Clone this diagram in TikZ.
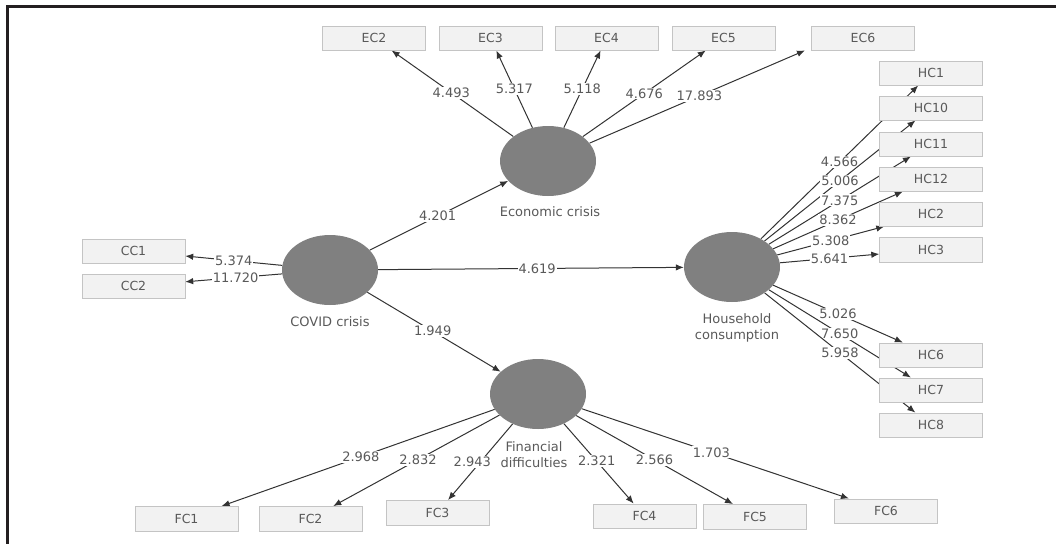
\documentclass[tikz,border=0pt]{standalone}
\usepackage{fontspec}
\setmainfont{DejaVu Sans}
\usetikzlibrary{shapes.geometric,arrows.meta,backgrounds}
\definecolor{latentgray}{HTML}{808080}
\definecolor{boxfill}{HTML}{F2F2F2}
\definecolor{boxline}{HTML}{C4C4C4}
\definecolor{textgray}{HTML}{595959}
\definecolor{framecol}{HTML}{231F20}
\begin{document}
\begin{tikzpicture}[x=1pt,y=-1pt,
latentnode/.style={ellipse, fill=latentgray, minimum width=96pt, minimum height=70pt, inner sep=0pt},
itemnode/.style={rectangle, draw=boxline, fill=boxfill, minimum width=103pt, minimum height=24.5pt, inner sep=0pt, font=\fontsize{12.5}{14}\selectfont, text=textgray},
namenode/.style={font=\fontsize{13}{16}\selectfont, text=textgray, align=center},
link/.style={draw=black!80, line width=1pt, -{Latex[length=8pt,width=6.5pt]}},
coef/.style={fill=white, inner sep=1pt, font=\fontsize{13}{15}\selectfont, text=textgray},
]
\useasboundingbox (0,0) rectangle (1056,544);
%Frame
\draw[framecol, line width=3pt] (1056,6) -- (7,6) -- (7,544);

%Latent variables
\node[latentnode] (eco)   at (548,161) {};
\node[latentnode] (covid) at (330,270) {};
\node[latentnode] (house) at (732,267) {};
\node[latentnode] (fin)   at (538,394) {};
\node[namenode] (econame)   at (550,212) {Economic crisis};
\node[namenode] (covidname) at (330,322) {COVID crisis};
\node[namenode] (housename) at (737,328) {Household\\consumption};
\node[namenode] (finname)   at (534,455) {Financial\\difficulties};

%Indicators
\node[itemnode] (ec2) at (374,38)   {EC2};
\node[itemnode] (ec3) at (490.5,38) {EC3};
\node[itemnode] (ec4) at (606.5,38) {EC4};
\node[itemnode] (ec5) at (723.5,38) {EC5};
\node[itemnode] (ec6) at (863,38)   {EC6};
\node[itemnode] (cc1) at (133.5,251) {CC1};
\node[itemnode] (cc2) at (133.5,286) {CC2};
\node[itemnode] (hc1)  at (931,73)    {HC1};
\node[itemnode] (hc10) at (931,108)   {HC10};
\node[itemnode] (hc11) at (931,144)   {HC11};
\node[itemnode] (hc12) at (931,179)   {HC12};
\node[itemnode] (hc2)  at (931,214)   {HC2};
\node[itemnode] (hc3)  at (931,249.5) {HC3};
\node[itemnode] (hc6)  at (931,355)   {HC6};
\node[itemnode] (hc7)  at (931,390)   {HC7};
\node[itemnode] (hc8)  at (931,425)   {HC8};
\node[itemnode] (fc1) at (186.5,518.5) {FC1};
\node[itemnode] (fc2) at (310.5,518.5) {FC2};
\node[itemnode] (fc3) at (437.5,512.5) {FC3};
\node[itemnode] (fc4) at (644.5,516)   {FC4};
\node[itemnode] (fc5) at (755,516.5)   {FC5};
\node[itemnode] (fc6) at (886,511)     {FC6};

%Lines
\begin{scope}[on background layer]
\draw[link] (covid) -- node[coef, pos=.49] {4.201} (eco);
\draw[link] (covid) -- node[coef, pos=.52] {4.619} (house);
\draw[link] (covid) -- node[coef, pos=.49] {1.949} (fin);
\draw[link] (covid) -- node[coef, pos=.5] {5.374} (cc1);
\draw[link] (covid) -- node[coef, pos=.48] {11.720} (cc2);

\draw[link] (eco) -- node[coef, pos=.51] {4.493} (ec2);
\draw[link] (eco) -- node[coef, pos=.5] {5.317} (ec3);
\draw[link] (eco) -- node[coef, pos=.5] {5.118} (ec4);
\draw[link] (eco) -- node[coef, pos=.5] {4.676} (ec5);
\draw[link] (eco) -- node[coef, pos=.51] {17.893} ([xshift=-58pt]ec6.south);

\draw[link] (house) -- node[coef, pos=.5] {4.566} (hc1);
\draw[link] (house) -- node[coef, pos=.5] {5.006} (hc10);
\draw[link] (house) -- node[coef, pos=.5] {7.375} (hc11);
\draw[link] (house) -- node[coef, pos=.5] {8.362} (hc12);
\draw[link] (house) -- node[coef, pos=.5] {5.308} (hc2);
\draw[link] (house) -- node[coef, pos=.5] {5.641} (hc3);
\draw[link] (house) -- node[coef, pos=.5] {5.026} (hc6);
\draw[link] (house) -- node[coef, pos=.5] {7.650} (hc7);
\draw[link] (house) -- node[coef, pos=.5] {5.958} (hc8);

\draw[link] (fin) -- node[coef, pos=.49] {2.968} (fc1);
\draw[link] (fin) -- node[coef, pos=.49] {2.832} (fc2);
\draw[link] (fin) -- node[coef, pos=.5, xshift=-8pt] {2.943} (fc3);
\draw[link] (fin) -- node[coef, pos=.47] {2.321} (fc4);
\draw[link] (fin) -- node[coef, pos=.5] {2.566} (fc5);
\draw[link] (fin) -- node[coef, pos=.485] {1.703} (fc6);
\end{scope}
\end{tikzpicture}
\end{document}
